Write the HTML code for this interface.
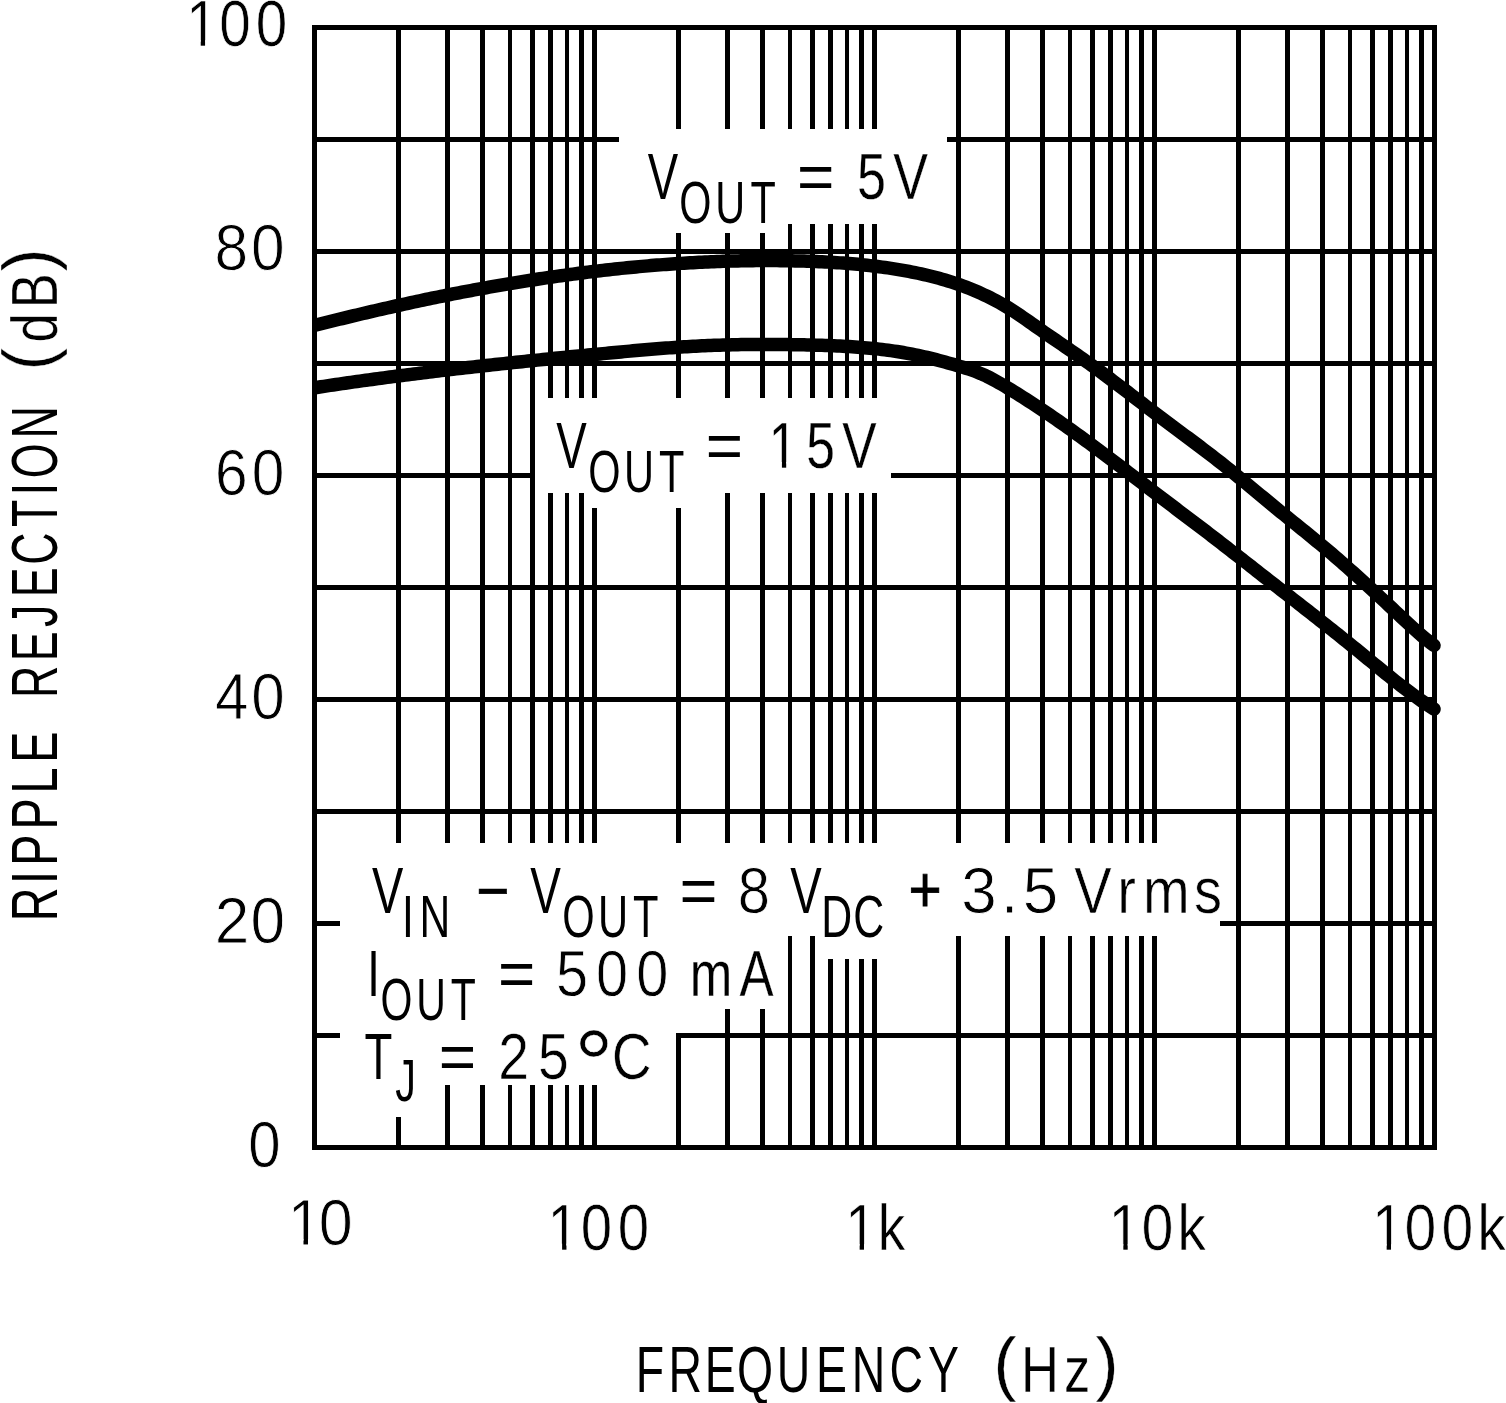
<!DOCTYPE html><html><head><meta charset="utf-8"><title>Ripple Rejection vs Frequency</title>
<style>html,body{margin:0;padding:0;background:#fff;overflow:hidden;}svg{display:block;}text{font-family:'Liberation Sans', Arial, sans-serif;fill:#000;vector-effect:non-scaling-stroke;}</style></head><body>
<svg width="1506" height="1403" viewBox="0 0 1506 1403">
<rect width="1506" height="1403" fill="#fff"/>
<g fill="#000"><rect x="312" y="25" width="5" height="1125"/><rect x="396" y="25" width="5" height="1125"/><rect x="445" y="25" width="5" height="1125"/><rect x="480" y="25" width="5" height="1125"/><rect x="508" y="25" width="4" height="1125"/><rect x="530" y="25" width="5" height="1125"/><rect x="548" y="25" width="5" height="1125"/><rect x="565" y="25" width="4" height="1125"/><rect x="579" y="25" width="5" height="1125"/><rect x="592" y="25" width="5" height="1125"/><rect x="676" y="25" width="5" height="1125"/><rect x="725" y="25" width="5" height="1125"/><rect x="760" y="25" width="5" height="1125"/><rect x="788" y="25" width="4" height="1125"/><rect x="810" y="25" width="5" height="1125"/><rect x="828" y="25" width="5" height="1125"/><rect x="845" y="25" width="4" height="1125"/><rect x="859" y="25" width="5" height="1125"/><rect x="872" y="25" width="5" height="1125"/><rect x="956" y="25" width="5" height="1125"/><rect x="1005" y="25" width="5" height="1125"/><rect x="1040" y="25" width="5" height="1125"/><rect x="1068" y="25" width="4" height="1125"/><rect x="1090" y="25" width="5" height="1125"/><rect x="1108" y="25" width="5" height="1125"/><rect x="1125" y="25" width="4" height="1125"/><rect x="1139" y="25" width="5" height="1125"/><rect x="1152" y="25" width="5" height="1125"/><rect x="1236" y="25" width="5" height="1125"/><rect x="1285" y="25" width="5" height="1125"/><rect x="1320" y="25" width="5" height="1125"/><rect x="1348" y="25" width="4" height="1125"/><rect x="1370" y="25" width="5" height="1125"/><rect x="1388" y="25" width="5" height="1125"/><rect x="1405" y="25" width="4" height="1125"/><rect x="1419" y="25" width="5" height="1125"/><rect x="1432" y="25" width="5" height="1125"/><rect x="312" y="25" width="1125" height="5"/><rect x="312" y="137" width="1125" height="5"/><rect x="312" y="249" width="1125" height="5"/><rect x="312" y="361" width="1125" height="5"/><rect x="312" y="473" width="1125" height="5"/><rect x="312" y="585" width="1125" height="5"/><rect x="312" y="697" width="1125" height="5"/><rect x="312" y="809" width="1125" height="5"/><rect x="312" y="921" width="1125" height="5"/><rect x="312" y="1033" width="1125" height="5"/><rect x="312" y="1145" width="1125" height="5"/></g>
<g fill="#fff"><rect x="619" y="129" width="328" height="95"/><rect x="670" y="129" width="112" height="104"/><rect x="535" y="398" width="356" height="95"/><rect x="588" y="398" width="112" height="110"/><rect x="340" y="843" width="880" height="93"/><rect x="822" y="843" width="68" height="116"/><rect x="340" y="843" width="440" height="166"/><rect x="340" y="843" width="336" height="242"/><rect x="385" y="843" width="55" height="274"/><rect x="676" y="1009" width="5" height="24"/></g>
<defs><clipPath id="cp"><rect x="312" y="0" width="1194" height="1403"/></clipPath></defs>
<g clip-path="url(#cp)" fill="none" stroke="#000" stroke-width="13.5" stroke-linejoin="round" stroke-linecap="round">
<polyline points="312,326.07 315,325.3 318,324.54 321,323.78 324,323.03 327,322.28 330,321.53 333,320.78 336,320.04 339,319.3 342,318.57 345,317.84 348,317.11 351,316.38 354,315.66 357,314.95 360,314.23 363,313.52 366,312.82 369,312.11 372,311.41 375,310.72 378,310.03 381,309.34 384,308.65 387,307.97 390,307.3 393,306.62 396,305.95 399,305.29 402,304.63 405,303.97 408,303.31 411,302.66 414,302.02 417,301.38 420,300.74 423,300.1 426,299.47 429,298.85 432,298.23 435,297.61 438,297 441,296.39 444,295.78 447,295.18 450,294.59 453,293.99 456,293.41 459,292.82 462,292.24 465,291.67 468,291.1 471,290.53 474,289.97 477,289.41 480,288.86 483,288.31 486,287.77 489,287.23 492,286.7 495,286.17 498,285.64 501,285.12 504,284.61 507,284.1 510,283.59 513,283.09 516,282.59 519,282.1 522,281.61 525,281.13 528,280.66 531,280.18 534,279.72 537,279.25 540,278.8 543,278.34 546,277.9 549,277.45 552,277.02 555,276.58 558,276.16 561,275.73 564,275.32 567,274.91 570,274.5 573,274.1 576,273.7 579,273.31 582,272.93 585,272.55 588,272.17 591,271.8 594,271.44 597,271.08 600,270.73 603,270.38 606,270.04 609,269.7 612,269.37 615,269.05 618,268.73 621,268.41 624,268.1 627,267.8 630,267.51 633,267.21 636,266.93 639,266.65 642,266.38 645,266.11 648,265.85 651,265.59 654,265.34 657,265.1 660,264.86 663,264.63 666,264.4 669,264.18 672,263.97 675,263.76 678,263.56 681,263.37 684,263.18 687,263 690,262.82 693,262.65 696,262.49 699,262.33 702,262.18 705,262.04 708,261.9 711,261.77 714,261.64 717,261.53 720,261.42 723,261.31 726,261.21 729,261.12 732,261.04 735,260.96 738,260.89 741,260.83 744,260.77 747,260.72 750,260.68 753,260.64 756,260.61 759,260.59 762,260.57 765,260.57 768,260.57 771,260.57 774,260.59 777,260.61 780,260.63 783,260.67 786,260.71 789,260.76 792,260.82 795,260.88 798,260.95 801,261.03 804,261.12 807,261.21 810,261.32 813,261.43 816,261.55 819,261.68 822,261.82 825,261.96 828,262.12 831,262.29 834,262.47 837,262.66 840,262.87 843,263.08 846,263.31 849,263.55 852,263.8 855,264.06 858,264.34 861,264.63 864,264.94 867,265.26 870,265.59 873,265.94 876,266.31 879,266.69 882,267.09 885,267.5 888,267.93 891,268.38 894,268.84 897,269.32 900,269.82 903,270.34 906,270.88 909,271.44 912,272.02 915,272.62 918,273.24 921,273.89 924,274.57 927,275.27 930,275.99 933,276.75 936,277.53 939,278.34 942,279.18 945,280.06 948,280.97 951,281.91 954,282.88 957,283.9 960,284.94 963,286.03 966,287.15 969,288.32 972,289.52 975,290.76 978,292.05 981,293.38 984,294.76 987,296.17 990,297.64 993,299.16 996,300.73 999,302.36 1002,304.05 1005,305.8 1008,307.62 1011,309.5 1014,311.44 1017,313.42 1020,315.44 1023,317.49 1026,319.57 1029,321.66 1032,323.77 1035,325.88 1038,327.99 1041,330.09 1044,332.18 1047,334.26 1050,336.33 1053,338.39 1056,340.44 1059,342.5 1062,344.55 1065,346.6 1068,348.66 1071,350.72 1074,352.79 1077,354.87 1080,356.96 1083,359.06 1086,361.18 1089,363.31 1092,365.47 1095,367.64 1098,369.83 1101,372.04 1104,374.27 1107,376.51 1110,378.76 1113,381.02 1116,383.29 1119,385.57 1122,387.86 1125,390.16 1128,392.46 1131,394.76 1134,397.06 1137,399.37 1140,401.68 1143,403.98 1146,406.28 1149,408.57 1152,410.86 1155,413.15 1158,415.42 1161,417.68 1164,419.94 1167,422.18 1170,424.42 1173,426.66 1176,428.88 1179,431.11 1182,433.34 1185,435.56 1188,437.79 1191,440.02 1194,442.26 1197,444.51 1200,446.76 1203,449.03 1206,451.3 1209,453.59 1212,455.9 1215,458.22 1218,460.55 1221,462.91 1224,465.29 1227,467.69 1230,470.1 1233,472.53 1236,474.97 1239,477.43 1242,479.89 1245,482.37 1248,484.85 1251,487.34 1254,489.83 1257,492.32 1260,494.82 1263,497.31 1266,499.81 1269,502.29 1272,504.78 1275,507.25 1278,509.72 1281,512.18 1284,514.62 1287,517.06 1290,519.49 1293,521.92 1296,524.35 1299,526.77 1302,529.2 1305,531.62 1308,534.06 1311,536.5 1314,538.95 1317,541.42 1320,543.89 1323,546.38 1326,548.89 1329,551.42 1332,553.97 1335,556.54 1338,559.14 1341,561.75 1344,564.38 1347,567.03 1350,569.69 1353,572.38 1356,575.07 1359,577.79 1362,580.51 1365,583.25 1368,586 1371,588.76 1374,591.53 1377,594.31 1380,597.09 1383,599.89 1386,602.69 1389,605.49 1392,608.3 1395,611.11 1398,613.93 1401,616.74 1404,619.56 1407,622.36 1410,625.14 1413,627.88 1416,630.59 1419,633.24 1422,635.83 1425,638.35 1428,640.78 1431,643.12 1434,645.36"/>
<polyline points="312,388.17 315,387.71 318,387.24 321,386.79 324,386.33 327,385.88 330,385.43 333,384.98 336,384.54 339,384.1 342,383.66 345,383.23 348,382.8 351,382.37 354,381.94 357,381.52 360,381.1 363,380.68 366,380.26 369,379.85 372,379.44 375,379.03 378,378.63 381,378.23 384,377.83 387,377.43 390,377.03 393,376.64 396,376.25 399,375.86 402,375.48 405,375.1 408,374.72 411,374.34 414,373.96 417,373.59 420,373.22 423,372.85 426,372.48 429,372.11 432,371.75 435,371.39 438,371.03 441,370.67 444,370.32 447,369.97 450,369.61 453,369.27 456,368.92 459,368.57 462,368.23 465,367.89 468,367.55 471,367.21 474,366.87 477,366.54 480,366.2 483,365.87 486,365.54 489,365.21 492,364.89 495,364.56 498,364.24 501,363.91 504,363.59 507,363.27 510,362.95 513,362.64 516,362.32 519,362.01 522,361.7 525,361.38 528,361.07 531,360.76 534,360.46 537,360.15 540,359.84 543,359.54 546,359.23 549,358.93 552,358.63 555,358.33 558,358.03 561,357.73 564,357.43 567,357.14 570,356.84 573,356.55 576,356.25 579,355.96 582,355.66 585,355.37 588,355.08 591,354.79 594,354.5 597,354.21 600,353.92 603,353.63 606,353.35 609,353.06 612,352.77 615,352.49 618,352.21 621,351.93 624,351.65 627,351.37 630,351.1 633,350.83 636,350.56 639,350.3 642,350.03 645,349.78 648,349.52 651,349.27 654,349.03 657,348.79 660,348.55 663,348.32 666,348.09 669,347.87 672,347.66 675,347.45 678,347.25 681,347.05 684,346.86 687,346.67 690,346.5 693,346.33 696,346.17 699,346.01 702,345.86 705,345.72 708,345.59 711,345.47 714,345.35 717,345.24 720,345.14 723,345.05 726,344.96 729,344.88 732,344.8 735,344.74 738,344.68 741,344.62 744,344.58 747,344.54 750,344.5 753,344.47 756,344.45 759,344.44 762,344.43 765,344.42 768,344.43 771,344.43 774,344.45 777,344.47 780,344.49 783,344.52 786,344.55 789,344.59 792,344.64 795,344.69 798,344.74 801,344.8 804,344.87 807,344.93 810,345.01 813,345.08 816,345.17 819,345.25 822,345.35 825,345.45 828,345.56 831,345.67 834,345.8 837,345.93 840,346.08 843,346.23 846,346.4 849,346.58 852,346.77 855,346.97 858,347.19 861,347.42 864,347.67 867,347.93 870,348.21 873,348.5 876,348.82 879,349.15 882,349.5 885,349.87 888,350.26 891,350.66 894,351.1 897,351.55 900,352.02 903,352.52 906,353.04 909,353.59 912,354.16 915,354.76 918,355.38 921,356.03 924,356.71 927,357.41 930,358.14 933,358.89 936,359.65 939,360.44 942,361.25 945,362.07 948,362.9 951,363.75 954,364.61 957,365.48 960,366.36 963,367.26 966,368.2 969,369.17 972,370.19 975,371.27 978,372.42 981,373.65 984,374.96 987,376.36 990,377.86 993,379.44 996,381.08 999,382.78 1002,384.52 1005,386.29 1008,388.09 1011,389.9 1014,391.74 1017,393.59 1020,395.47 1023,397.36 1026,399.27 1029,401.19 1032,403.14 1035,405.1 1038,407.08 1041,409.07 1044,411.08 1047,413.11 1050,415.15 1053,417.21 1056,419.28 1059,421.36 1062,423.46 1065,425.58 1068,427.7 1071,429.84 1074,431.99 1077,434.16 1080,436.33 1083,438.52 1086,440.72 1089,442.92 1092,445.14 1095,447.36 1098,449.6 1101,451.84 1104,454.08 1107,456.34 1110,458.6 1113,460.86 1116,463.13 1119,465.41 1122,467.68 1125,469.96 1128,472.25 1131,474.53 1134,476.82 1137,479.11 1140,481.4 1143,483.69 1146,485.98 1149,488.27 1152,490.55 1155,492.84 1158,495.12 1161,497.39 1164,499.67 1167,501.94 1170,504.21 1173,506.48 1176,508.74 1179,511.01 1182,513.27 1185,515.54 1188,517.81 1191,520.08 1194,522.35 1197,524.62 1200,526.9 1203,529.18 1206,531.46 1209,533.75 1212,536.05 1215,538.35 1218,540.66 1221,542.98 1224,545.3 1227,547.63 1230,549.97 1233,552.31 1236,554.65 1239,557 1242,559.35 1245,561.71 1248,564.06 1251,566.42 1254,568.77 1257,571.12 1260,573.47 1263,575.82 1266,578.16 1269,580.5 1272,582.84 1275,585.18 1278,587.52 1281,589.86 1284,592.19 1287,594.53 1290,596.86 1293,599.2 1296,601.54 1299,603.88 1302,606.22 1305,608.56 1308,610.91 1311,613.26 1314,615.61 1317,617.96 1320,620.32 1323,622.69 1326,625.05 1329,627.43 1332,629.81 1335,632.19 1338,634.58 1341,636.98 1344,639.39 1347,641.8 1350,644.22 1353,646.65 1356,649.09 1359,651.53 1362,653.99 1365,656.45 1368,658.92 1371,661.39 1374,663.86 1377,666.32 1380,668.78 1383,671.23 1386,673.68 1389,676.1 1392,678.51 1395,680.91 1398,683.28 1401,685.62 1404,687.94 1407,690.23 1410,692.49 1413,694.71 1416,696.89 1419,699.04 1422,701.14 1425,703.19 1428,705.2 1431,707.16 1434,709.06"/>
</g>
<g><text transform="scale(0.86935,1)" style="stroke:#fff;stroke-width:0.67px"><tspan x="214.12 252.19 294.17" y="46.33" font-size="65.2">100</tspan></text>
<text transform="scale(0.92776,1)" style="stroke:#fff;stroke-width:0.9px"><tspan x="231.29 270.68" y="269.95" font-size="65.2">80</tspan></text>
<text transform="scale(0.89947,1)" style="stroke:#fff;stroke-width:0.85px"><tspan x="238.96 279.77" y="494.72" font-size="65.2">60</tspan></text>
<text transform="scale(0.92312,1)" style="stroke:#fff;stroke-width:0.9px"><tspan x="232.8 272.08" y="719.25" font-size="65.2">40</tspan></text>
<text transform="scale(0.95449,1)" style="stroke:#fff;stroke-width:0.9px"><tspan x="224.88 262.54" y="943.45" font-size="65.2">20</tspan></text>
<text transform="scale(0.89234,1)" style="stroke:#fff;stroke-width:0.81px"><tspan x="278.28" y="1166.81" font-size="65.2">0</tspan></text>
<text transform="scale(0.93723,1)" style="stroke:#fff;stroke-width:0.9px"><tspan x="306.94 340.21" y="1245.15" font-size="65.2">10</tspan></text>
<text transform="scale(0.86616,1)" style="stroke:#fff;stroke-width:0.65px"><tspan x="632.2 670.54 713.14" y="1249.73" font-size="65.2">100</tspan></text>
<text transform="scale(0.84519,1)" style="stroke:#fff;stroke-width:0.52px"><tspan x="1000.4 1038.61" y="1250.16" font-size="65.2">1k</tspan></text>
<text transform="scale(0.88061,1)" style="stroke:#fff;stroke-width:0.72px"><tspan x="1258.82 1296.24 1336.76" y="1250.16" font-size="65.2">10k</tspan></text>
<text transform="scale(0.87603,1)" style="stroke:#fff;stroke-width:0.7px"><tspan x="1566.09 1603.27 1645.56 1686.41" y="1250.35" font-size="65.2">100k</tspan></text>
<text transform="scale(0.71148,1)"><tspan x="893.72 939.49 990.37 1035.83 1091.6 1146.81 1197.14 1250.37 1304.37" y="1391.8" font-size="65.2">FREQUENCY</tspan></text>
<text transform="scale(0.80451,1)" style="stroke:#fff;stroke-width:0.34px"><tspan x="1234.84" y="1387.27" font-size="70.5" textLength="28.64" lengthAdjust="spacingAndGlyphs">(</tspan><tspan x="1269.16 1322.65" y="1391.97" font-size="65.2">Hz</tspan><tspan x="1361.61" y="1387.27" font-size="70.5" textLength="28.64" lengthAdjust="spacingAndGlyphs">)</tspan></text>
<text transform="rotate(-90) scale(0.71797,1)"><tspan x="-1282.98 -1231.26 -1205.97 -1155.41 -1105.29 -1062.48" y="57" font-size="65.2">RIPPLE</tspan></text>
<text transform="rotate(-90) scale(0.68537,1)"><tspan x="-1018.61 -964.98 -914.77 -871.46 -824.1 -769.05 -722.46 -697.75 -639.86" y="57" font-size="65.2">REJECTION</tspan></text>
<text transform="rotate(-90) scale(0.80422,1)" style="stroke:#fff;stroke-width:0.34px"><tspan x="-460.42" y="52.47" font-size="70.5" textLength="27.4" lengthAdjust="spacingAndGlyphs">(</tspan><tspan x="-425.75 -383.17" y="57.17" font-size="65.2">dB</tspan><tspan x="-337.69" y="52.47" font-size="70.5" textLength="28.65" lengthAdjust="spacingAndGlyphs">)</tspan></text>
<text transform="scale(0.69939,1)"><tspan x="926.23" y="199" font-size="65.2">V</tspan><tspan x="971.36 1022.61 1073.03" y="222.7" font-size="59.2">OUT</tspan></text>
<text transform="scale(0.98179,1)"><tspan x="811.75" y="199" font-size="65.2">=</tspan></text>
<text transform="scale(0.79833,1)" style="stroke:#fff;stroke-width:0.32px"><tspan x="1073.65 1118.76" y="199.16" font-size="65.2">5V</tspan></text>
<text transform="scale(0.70138,1)"><tspan x="793.08" y="468" font-size="65.2">V</tspan><tspan x="838.86 889.75 939.47" y="491.8" font-size="59.2">OUT</tspan></text>
<text transform="scale(0.97864,1)"><tspan x="721.19" y="468" font-size="65.2">=</tspan></text>
<text transform="scale(0.79027,1)" style="stroke:#fff;stroke-width:0.27px"><tspan x="972.85 1020.12 1065.8" y="468.13" font-size="65.2">15V</tspan></text>
<text transform="scale(0.72020,1)"><tspan x="516.44" y="913" font-size="65.2">V</tspan><tspan x="558.35 582.47" y="937" font-size="59.2">IN</tspan></text>
<text transform="scale(0.87130,1)" style="stroke:#000;stroke-width:0.6px"><tspan x="546.65" y="913.2" font-size="65.2">−</tspan></text>
<text transform="scale(0.70404,1)"><tspan x="753.07" y="913" font-size="65.2">V</tspan><tspan x="798.46 849.31 899.07" y="937" font-size="59.2">OUT</tspan></text>
<text transform="scale(0.99758,1)"><tspan x="681.07" y="913" font-size="65.2">=</tspan></text>
<text transform="scale(0.88873,1)" style="stroke:#fff;stroke-width:0.79px"><tspan x="830.05" y="913.4" font-size="65.2">8</tspan></text>
<text transform="scale(0.72400,1)"><tspan x="1091.51" y="913" font-size="65.2">V</tspan><tspan x="1134.17 1178.45" y="937" font-size="59.2">DC</tspan></text>
<text transform="scale(0.87130,1)" style="stroke:#000;stroke-width:0.8px"><tspan x="1042.61" y="912.1" font-size="65.2">+</tspan></text>
<text transform="scale(0.97893,1)" style="stroke:#fff;stroke-width:0.9px"><tspan x="981.98 1022.37 1044.83" y="913.45" font-size="65.2">3.5</tspan></text>
<text transform="scale(0.85932,1)" style="stroke:#fff;stroke-width:0.64px"><tspan x="1250.13 1300.13 1330.12 1389.56" y="913.32" font-size="65.2">Vrms</tspan></text>
<text transform="scale(0.69377,1)"><tspan x="529.38" y="996" font-size="65.2">I</tspan><tspan x="548.51 599.94 649.88" y="1020" font-size="59.2">OUT</tspan></text>
<text transform="scale(0.97864,1)"><tspan x="508.75" y="996" font-size="65.2">=</tspan></text>
<text transform="scale(0.88621,1)" style="stroke:#fff;stroke-width:0.78px"><tspan x="627.32 672.62 717.99" y="996.39" font-size="65.2">500</tspan></text>
<text transform="scale(0.78378,1)" style="stroke:#fff;stroke-width:0.25px"><tspan x="880.1 943.45" y="996.12" font-size="65.2">mA</tspan></text>
<text transform="scale(0.69995,1)"><tspan x="520.78" y="1078.8" font-size="65.2">T</tspan><tspan x="564.76" y="1101.1" font-size="59.2">J</tspan></text>
<text transform="scale(0.98179,1)"><tspan x="447.01" y="1078.8" font-size="65.2">=</tspan></text>
<text transform="scale(0.84840,1)" style="stroke:#fff;stroke-width:0.59px"><tspan x="587.36 634.04" y="1079.09" font-size="65.2">25</tspan><tspan x="676.43" y="1097.59" font-size="96" textLength="46.9" lengthAdjust="spacingAndGlyphs">°</tspan><tspan x="721.09" y="1079.09" font-size="65.2">C</tspan></text></g>
<g fill="#fff"><rect x="188.96" y="40.26" width="11.77" height="7.57"/><rect x="205.07" y="40.26" width="11.33" height="7.57"/><rect x="290.83" y="1239.08" width="12.66" height="7.57"/><rect x="307.99" y="1239.08" width="12.18" height="7.57"/><rect x="550.39" y="1243.65" width="11.72" height="7.57"/><rect x="566.45" y="1243.65" width="11.28" height="7.57"/><rect x="848.23" y="1244.09" width="11.42" height="7.57"/><rect x="864" y="1244.09" width="10.99" height="7.57"/><rect x="1111.41" y="1244.09" width="11.92" height="7.57"/><rect x="1127.68" y="1244.09" width="11.48" height="7.57"/><rect x="1374.8" y="1244.28" width="11.86" height="7.57"/><rect x="1391.01" y="1244.28" width="11.42" height="7.57"/><rect x="771.24" y="462.06" width="10.67" height="7.57"/><rect x="786.19" y="462.06" width="10.26" height="7.57"/></g>
</svg></body></html>
